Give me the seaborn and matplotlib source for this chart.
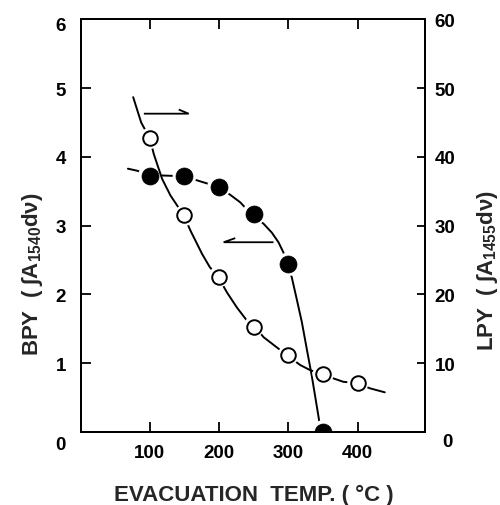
import matplotlib
matplotlib.use("Agg")
import matplotlib.pyplot as plt
import matplotlib.transforms as mtrans
import seaborn as sns
import pandas as pd

# ---- data ----
temps_bpy = [100, 150, 200, 250, 300, 350]
bpy = [3.72, 3.72, 3.57, 3.17, 2.44, 0.0]

temps_lpy = [100, 150, 200, 250, 300, 350, 400]
lpy = [42.7, 31.5, 22.6, 15.3, 11.2, 8.4, 7.1]

# hand-drawn guide curves
bpy_curve_x = [68.4, 81.8, 100, 120, 150, 168.2, 197, 216, 230.5, 246.3, 264,
               276, 285.6, 292.8, 297.6, 304.8, 312, 319.3, 326.4, 333.6, 340.8,
               344.7, 349.5]
bpy_curve_y = [3.83, 3.80, 3.74, 3.73, 3.72, 3.66, 3.57, 3.45, 3.34, 3.17, 3.03,
               2.90, 2.76, 2.61, 2.44, 2.25, 1.93, 1.60, 1.21, 0.82, 0.38,
               0.14, 0.02]

lpy_curve_x = [76, 87.6, 100, 105.8, 117.8, 129.8, 149, 158.6, 175.4, 186.4,
               198.4, 211.3, 225.7, 240.1, 252, 264, 283.3, 297.6, 316.8, 331.2,
               349, 364.8, 379.1, 399.3, 417.6, 439]
lpy_curve_y = [48.7, 45.0, 42.7, 40.4, 36.8, 34.4, 31.5, 29.3, 25.9, 24.0,
               22.6, 20.3, 18.1, 16.2, 15.3, 13.8, 12.3, 11.2, 9.75, 9.0,
               8.4, 7.8, 7.3, 7.1, 6.35, 5.77]

x_ticks = [100, 200, 300, 400]
bpy_ticks = [0, 1, 2, 3, 4, 5, 6]
lpy_ticks = [0, 10, 20, 30, 40, 50, 60]

# ---- style ----
sns.set_style("ticks")
plt.rcParams["font.family"] = ["Liberation Sans", "DejaVu Sans"]
plt.rcParams["font.weight"] = "bold"
plt.rcParams["mathtext.fontset"] = "custom"
plt.rcParams["mathtext.rm"] = "Liberation Sans:bold"
plt.rcParams["mathtext.it"] = "Liberation Sans:bold"
plt.rcParams["mathtext.bf"] = "Liberation Sans:bold"

fig = plt.figure(figsize=(5.0, 5.06), dpi=100)
ax = fig.add_axes([0.161, 0.1443, 0.689, 0.8152])
ax2 = ax.twinx()

df_b = pd.DataFrame({"T": temps_bpy, "v": bpy})
df_l = pd.DataFrame({"T": temps_lpy, "v": lpy})
df_bc = pd.DataFrame({"T": bpy_curve_x, "v": bpy_curve_y})
df_lc = pd.DataFrame({"T": lpy_curve_x, "v": lpy_curve_y})

lw = 1.4
# BPY (left axis)
sns.lineplot(data=df_bc, x="T", y="v", ax=ax, sort=False, estimator=None,
             color="black", linewidth=lw, zorder=2)
sns.scatterplot(data=df_b, x="T", y="v", ax=ax, s=290, color="white",
                edgecolor="none", linewidth=0, zorder=3)
sns.scatterplot(data=df_b, x="T", y="v", ax=ax, s=150, color="black",
                edgecolor="black", linewidth=0.5, zorder=4)

# LPY (right axis)
sns.lineplot(data=df_lc, x="T", y="v", ax=ax2, sort=False, estimator=None,
             color="black", linewidth=lw, zorder=2)
sns.scatterplot(data=df_l, x="T", y="v", ax=ax2, s=230, color="white",
                edgecolor="none", linewidth=0, zorder=3)
sns.scatterplot(data=df_l, x="T", y="v", ax=ax2, s=110, color="white",
                edgecolor="black", linewidth=1.4, zorder=4)

# harpoon arrows (annotations)
ax.plot([91.4, 156.1, 141.7], [4.63, 4.63, 4.69], color="black", lw=1.3,
        solid_capstyle="butt", solid_joinstyle="miter")
ax.plot([278.4, 206.5, 223.3], [2.76, 2.76, 2.82], color="black", lw=1.3,
        solid_capstyle="butt", solid_joinstyle="miter")

# axes limits and ticks
ax.set_xlim(0, 497)
ax.set_ylim(0, 6)
ax2.set_ylim(0, 60)
ax.set_xticks(x_ticks)
ax.set_xticklabels([str(t) for t in x_ticks])
ax.set_yticks(bpy_ticks)
ax.set_yticklabels([str(t) for t in bpy_ticks])
ax2.set_yticks(lpy_ticks)
ax2.set_yticklabels([str(t) for t in lpy_ticks])

for a in (ax, ax2):
    for sp in a.spines.values():
        sp.set_visible(True)
        sp.set_linewidth(1.4)
        sp.set_color("black")

ax.tick_params(axis="x", direction="in", length=7, width=1.3, top=True,
               bottom=True, labelsize=13.5, pad=9.0, colors="black")
ax.tick_params(axis="y", direction="in", length=7, width=1.3, left=True,
               right=False, labelsize=13.5, pad=10.5, colors="black")
ax2.tick_params(axis="y", direction="in", length=6, width=1.3, right=True,
                left=False, labelsize=13.5, pad=7.0, colors="black")
for lab in ax.get_xticklabels() + ax.get_yticklabels() + ax2.get_yticklabels():
    lab.set_fontweight("bold")

# the original sets the "0" and "6" labels a little lower than their ticks
def nudge(label, dx_px, dy_px):
    off = mtrans.ScaledTranslation(dx_px / 100, dy_px / 100, fig.dpi_scale_trans)
    label.set_transform(label.get_transform() + off)

ylabs = ax.get_yticklabels()
nudge(ylabs[0], 0, -11)
nudge(ylabs[-1], 0, -4)
rlabs = ax2.get_yticklabels()
nudge(rlabs[0], 8, -8)

ax.set_xlabel("EVACUATION  TEMP. ( °C )", fontsize=16, fontweight="bold")
ax.xaxis.set_label_coords(0.502, -0.127)
ax.set_ylabel("BPY  ( ∫A$_{1540}$dν)", fontsize=16, fontweight="bold")
ax.yaxis.set_label_coords(-0.102, 0.386)
ax2.set_ylabel("LPY  ( ∫A$_{1455}$dν)", fontsize=16, fontweight="bold",
               rotation=90)
ax2.yaxis.set_label_coords(1.146, 0.393)

fig.savefig("out.png", dpi=100)
